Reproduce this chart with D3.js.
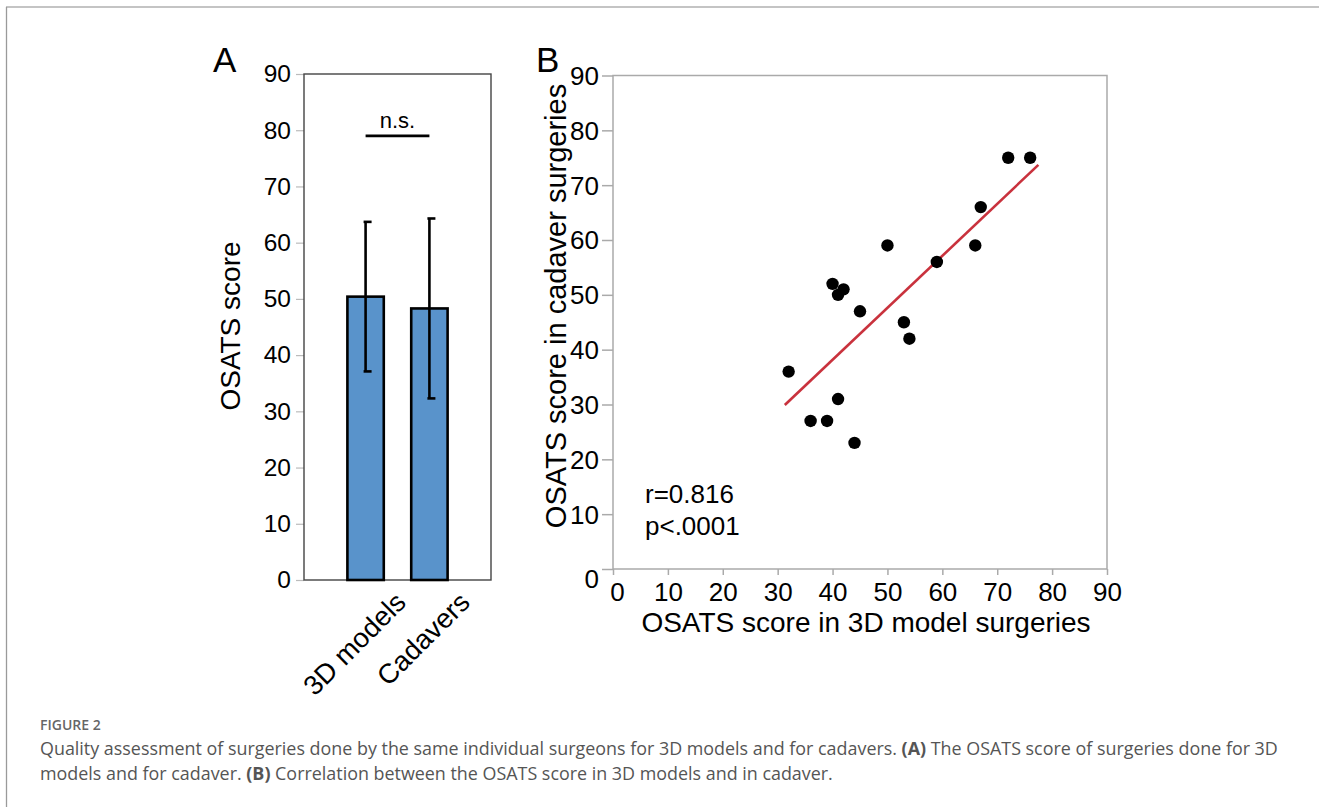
<!DOCTYPE html>
<html>
<head>
<meta charset="utf-8">
<script src="https://cdn.jsdelivr.net/npm/d3@7"></script>
<style>
  body { margin: 0; background: #fff; }
  svg { display: block; font-family: "Liberation Sans", Arial, sans-serif; }
  .caption { font-family: "Open Sans", sans-serif; }
</style>
</head>
<body>
<svg id="fig" width="1319" height="807"></svg>
<script>
// panel A: mean OSATS score with error bars
var groups = ['3D models', 'Cadavers'];
var groupMeans = [50.4, 48.3];
var groupErrors = [13.3, 16.0];
var nsLevel = 79;

// panel B: each surgeon, 3D model score vs cadaver score
var modelScores   = [72, 76, 67, 66, 59, 50, 40, 42, 41, 45, 53, 54, 32, 41, 36, 39, 44];
var cadaverScores = [75, 75, 66, 59, 56, 59, 52, 51, 50, 47, 45, 42, 36, 31, 27, 27, 23];
var fitX = [31.3, 77.5];
var fitY = [29.9, 73.7];

var scoreTicks = [0, 10, 20, 30, 40, 50, 60, 70, 80, 90];

var svg = d3.select('#fig');

// page border
svg.append('line').attr('x1', 6).attr('x2', 1319).attr('y1', 7).attr('y2', 7)
  .attr('stroke', '#c4c4c4').attr('stroke-width', 2);
svg.append('line').attr('x1', 6.5).attr('x2', 6.5).attr('y1', 7).attr('y2', 807)
  .attr('stroke', '#9a9a9a').attr('stroke-width', 1.3);

// ---------- Panel A ----------
var aLeft = 304, aRight = 491, aTop = 74, aBottom = 580;

var groupScale = d3.scaleBand()
  .domain(groups)
  .range([aLeft, aRight])
  .paddingInner(0.43)
  .paddingOuter(0.68);

var scoreScaleA = d3.scaleLinear()
  .domain([0, 90])
  .range([aBottom, aTop]);

var axisA = svg.append('g')
  .attr('transform', 'translate(' + aLeft + ',0)')
  .call(d3.axisLeft(scoreScaleA).tickValues(scoreTicks).tickSize(8).tickPadding(5));
axisA.select('.domain').remove();
axisA.selectAll('line').attr('stroke', '#bbb').attr('stroke-width', 1.2);
axisA.selectAll('text').attr('font-size', 24.5).attr('fill', '#000')
  .attr('font-family', '"Liberation Sans", Arial, sans-serif');

svg.append('rect')
  .attr('x', aLeft).attr('y', aTop)
  .attr('width', aRight - aLeft).attr('height', aBottom - aTop)
  .attr('fill', 'none').attr('stroke', '#444').attr('stroke-width', 1.4);

svg.selectAll('.bar')
  .data(groups)
  .enter().append('rect')
    .attr('class', 'bar')
    .attr('x', function(d) { return groupScale(d); })
    .attr('y', function(d, i) { return scoreScaleA(groupMeans[i]); })
    .attr('width', groupScale.bandwidth())
    .attr('height', function(d, i) { return aBottom - scoreScaleA(groupMeans[i]); })
    .attr('fill', '#5993cb')
    .attr('stroke', '#000')
    .attr('stroke-width', 2.6);

var errG = svg.selectAll('.err')
  .data(groups)
  .enter().append('g')
    .attr('class', 'err')
    .attr('transform', function(d) {
      return 'translate(' + (groupScale(d) + groupScale.bandwidth() / 2) + ',0)';
    });
errG.append('line')
  .attr('x1', 0).attr('x2', 0)
  .attr('y1', function(d, i) { return scoreScaleA(groupMeans[i] + groupErrors[i]); })
  .attr('y2', function(d, i) { return scoreScaleA(groupMeans[i] - groupErrors[i]); })
  .attr('stroke', '#000').attr('stroke-width', 2.6);
[1, -1].forEach(function(sign) {
  errG.append('line')
    .attr('x1', -2).attr('x2', 6)
    .attr('y1', function(d, i) { return scoreScaleA(groupMeans[i] + sign * groupErrors[i]); })
    .attr('y2', function(d, i) { return scoreScaleA(groupMeans[i] + sign * groupErrors[i]); })
    .attr('stroke', '#000').attr('stroke-width', 2.6);
});

// n.s. bracket
var c0 = groupScale(groups[0]) + groupScale.bandwidth() / 2;
var c1 = groupScale(groups[1]) + groupScale.bandwidth() / 2;
svg.append('line')
  .attr('x1', c0).attr('x2', c1)
  .attr('y1', scoreScaleA(nsLevel)).attr('y2', scoreScaleA(nsLevel))
  .attr('stroke', '#000').attr('stroke-width', 2.6);
svg.append('text')
  .attr('x', (c0 + c1) / 2).attr('y', scoreScaleA(nsLevel) - 8)
  .attr('text-anchor', 'middle').attr('font-size', 22)
  .text('n.s.');

svg.selectAll('.glabel')
  .data(groups)
  .enter().append('text')
    .attr('class', 'glabel')
    .attr('text-anchor', 'end')
    .attr('font-size', 27.5)
    .attr('transform', function(d) {
      return 'translate(' + (groupScale(d) + groupScale.bandwidth() / 2 + 42) + ',' + (aBottom + 24) + ') rotate(-45)';
    })
    .text(function(d) { return d; });

svg.append('text')
  .attr('transform', 'translate(240,' + 326 + ') rotate(-90)')
  .attr('text-anchor', 'middle').attr('font-size', 28)
  .text('OSATS score');

svg.append('text').attr('x', 213).attr('y', 72).attr('font-size', 35).text('A');

// ---------- Panel B ----------
var bLeft = 613, bRight = 1107, bTop = 75.5, bBottom = 569;

var modelScale = d3.scaleLinear().domain([0, 90]).range([bLeft, bRight]);
var cadaverScale = d3.scaleLinear().domain([0, 90]).range([bBottom, bTop]);

svg.append('rect')
  .attr('x', bLeft).attr('y', bTop)
  .attr('width', bRight - bLeft).attr('height', bBottom - bTop)
  .attr('fill', 'none').attr('stroke', '#aaa').attr('stroke-width', 1.5);

var yAxisB = svg.append('g')
  .attr('transform', 'translate(' + bLeft + ',0)')
  .call(d3.axisLeft(cadaverScale).tickValues(scoreTicks).tickSize(11).tickPadding(3));
yAxisB.select('.domain').remove();
yAxisB.selectAll('line').attr('stroke', '#aaa').attr('stroke-width', 1.5);
yAxisB.selectAll('text').attr('font-size', 26).attr('fill', '#000')
  .attr('font-family', '"Liberation Sans", Arial, sans-serif')
  .attr('dy', function(d) { return d === 0 ? '0.72em' : '0.34em'; });

var xAxisB = svg.append('g')
  .attr('transform', 'translate(0,' + bBottom + ')')
  .call(d3.axisBottom(modelScale).tickValues(scoreTicks).tickSize(6).tickPadding(8));
xAxisB.select('.domain').remove();
xAxisB.selectAll('line').attr('stroke', '#aaa').attr('stroke-width', 1.5);
xAxisB.selectAll('text').attr('font-size', 26).attr('fill', '#000')
  .attr('font-family', '"Liberation Sans", Arial, sans-serif')
  .attr('dx', function(d) { return d === 0 ? 4 : 0; });

svg.append('line')
  .attr('x1', modelScale(fitX[0])).attr('y1', cadaverScale(fitY[0]))
  .attr('x2', modelScale(fitX[1])).attr('y2', cadaverScale(fitY[1]))
  .attr('stroke', '#c9323d').attr('stroke-width', 2.6);

svg.selectAll('.dot')
  .data(modelScores)
  .enter().append('circle')
    .attr('class', 'dot')
    .attr('cx', function(d) { return modelScale(d); })
    .attr('cy', function(d, i) { return cadaverScale(cadaverScores[i]); })
    .attr('r', 6.2)
    .attr('fill', '#000');

svg.append('text').attr('x', 645).attr('y', 503).attr('font-size', 26).text('r=0.816');
svg.append('text').attr('x', 645).attr('y', 535).attr('font-size', 26).text('p<.0001');

svg.append('text')
  .attr('x', (bLeft + bRight) / 2 + 6).attr('y', 632)
  .attr('text-anchor', 'middle').attr('font-size', 28)
  .text('OSATS score in 3D model surgeries');

svg.append('text')
  .attr('transform', 'translate(566,306) rotate(-90)')
  .attr('text-anchor', 'middle').attr('font-size', 29)
  .text('OSATS score in cadaver surgeries');

svg.append('text').attr('x', 536).attr('y', 72).attr('font-size', 35).text('B');

// ---------- caption ----------
var cap = svg.append('g').attr('class', 'caption');
cap.append('text').attr('x', 40).attr('y', 730)
  .attr('font-size', 14).attr('font-weight', 600).attr('fill', '#666')
  .text('FIGURE 2');
var line1 = cap.append('text').attr('x', 40).attr('y', 755)
  .attr('font-size', 17.9).attr('fill', '#555');
line1.append('tspan').text('Quality assessment of surgeries done by the same individual surgeons for 3D models and for cadavers. ');
line1.append('tspan').attr('font-weight', 700).text('(A)');
line1.append('tspan').text(' The OSATS score of surgeries done for 3D');
var line2 = cap.append('text').attr('x', 40).attr('y', 780)
  .attr('font-size', 17.9).attr('fill', '#555');
line2.append('tspan').text('models and for cadaver. ');
line2.append('tspan').attr('font-weight', 700).text('(B)');
line2.append('tspan').text(' Correlation between the OSATS score in 3D models and in cadaver.');
</script>
</body>
</html>
